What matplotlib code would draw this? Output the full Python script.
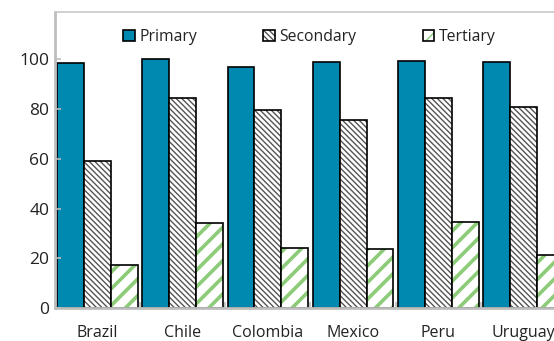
import matplotlib
matplotlib.use("Agg")
import matplotlib.pyplot as plt
import numpy as np

countries = ["Brazil", "Chile", "Colombia", "Mexico", "Peru", "Uruguay"]
primary = [98.5, 100.0, 97.0, 98.8, 99.5, 98.8]
secondary = [59.2, 84.3, 79.6, 75.4, 84.3, 80.7]
tertiary = [17.1, 34.0, 24.3, 23.8, 34.5, 21.3]

blue = "#0089B0"
green = "#8CCB78"
hatch_grey = "#555555"
axis_grey = "#BEBEBE"

plt.rcParams["font.family"] = ["Open Sans", "DejaVu Sans"]

fig = plt.figure(figsize=(5.54, 3.41), dpi=100)
# plot area runs past the right edge of the picture, as in the source
ax = fig.add_axes([55 / 554, 33 / 341, 511 / 554, 296 / 341])

x = np.arange(len(countries))
w = 0.316

b1 = ax.bar(x - w, primary, w, color=blue, edgecolor="black", linewidth=1.2)

with plt.rc_context({"hatch.linewidth": 1.0}):
    b2u = ax.bar(x, secondary, w, color="white", edgecolor=hatch_grey,
                 hatch="\\" * 6, linewidth=0)
b2o = ax.bar(x, secondary, w, fill=False, edgecolor="black", linewidth=1.2)

with plt.rc_context({"hatch.linewidth": 2.6}):
    b3u = ax.bar(x + w, tertiary, w, color="white", edgecolor=green,
                 hatch="//", linewidth=0)
b3o = ax.bar(x + w, tertiary, w, fill=False, edgecolor="black", linewidth=1.2)

ax.set_xlim(-0.5, len(countries) - 0.5)
ax.set_ylim(0, 119)
ax.set_yticks([0, 20, 40, 60, 80, 100])
ax.set_xticks(x)
ax.set_xticklabels(countries)
ax.set_xticks(np.arange(len(countries) + 1) - 0.5, minor=True)

ax.tick_params(axis="y", direction="in", length=4, color=axis_grey, width=1.2,
               labelsize=12.5, labelcolor="#222222", pad=4)
ax.tick_params(axis="x", which="major", length=0, labelsize=11.5,
               labelcolor="#222222", pad=12)
ax.tick_params(axis="x", which="minor", direction="in", length=4,
               color=axis_grey, width=1.2)

for s in ["left", "bottom"]:
    ax.spines[s].set_color(axis_grey)
    ax.spines[s].set_linewidth(2)
ax.spines["top"].set_color("#C8C8C8")
ax.spines["top"].set_linewidth(1.2)
ax.spines["right"].set_visible(False)

leg = ax.legend([b1, (b2u, b2o), (b3u, b3o)], ["Primary", "Secondary", "Tertiary"],
                ncol=3, loc="center left", bbox_to_anchor=(123 / 554, (341 - 37) / 341),
                bbox_transform=fig.transFigure, frameon=False, fontsize=11.3,
                handlelength=0.75, handleheight=0.75, handletextpad=0.3,
                columnspacing=4.2, borderaxespad=0, borderpad=0)
for t in leg.get_texts():
    t.set_color("#222222")

fig.savefig("out.png", dpi=100)
